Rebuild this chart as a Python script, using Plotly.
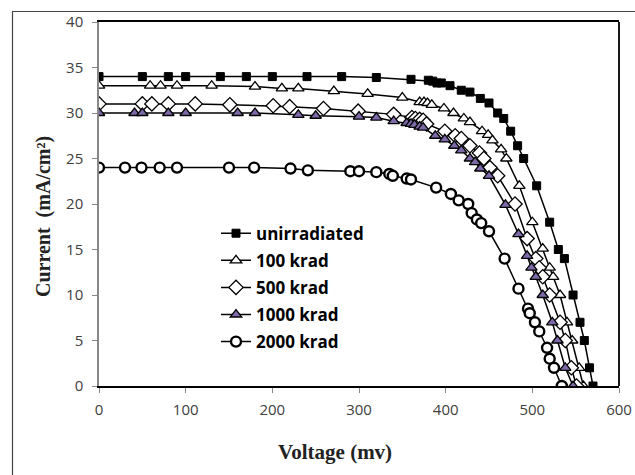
import plotly.graph_objects as go

# ---- data ----
v_unirr = [0, 50, 80, 100, 140, 170, 200, 240, 280, 320, 360, 380, 385, 390, 395, 405, 418, 428, 440, 450, 460, 467, 475, 483, 490, 505, 520, 530, 537, 547, 555, 560, 566, 570]
i_unirr = [34.0, 34.0, 34.0, 34.0, 34.0, 34.0, 34.0, 34.0, 34.0, 33.9, 33.7, 33.6, 33.5, 33.3, 33.3, 33.0, 32.5, 32.3, 31.6, 31.1, 30.0, 29.4, 28.0, 26.4, 25.0, 22.0, 18.0, 15.0, 14.0, 10.0, 7.0, 5.0, 2.0, 0.0]

v_100 = [0, 59, 71, 90, 130, 180, 211, 230, 271, 310, 350, 370, 375, 379, 384, 398, 409, 421, 428, 442, 449, 454, 464, 470, 485, 500, 512, 520, 524, 532, 540, 546, 554, 559]
i_100 = [33.0, 33.0, 33.0, 33.0, 33.0, 32.9, 32.7, 32.7, 32.4, 32.1, 31.7, 31.2, 31.2, 31.1, 30.9, 30.5, 30.0, 29.4, 29.0, 28.0, 27.6, 27.0, 26.0, 25.0, 22.0, 18.0, 15.1, 13.0, 12.0, 10.0, 7.0, 5.0, 2.0, 0.0]

v_500 = [0, 50, 61, 80, 111, 151, 201, 220, 259, 299, 340, 361, 365, 370, 374, 378, 399, 411, 418, 428, 439, 444, 451, 460, 480, 494, 504, 508, 512, 520, 532, 538, 545, 551]
i_500 = [31.0, 31.0, 31.0, 31.0, 31.0, 30.9, 30.8, 30.7, 30.5, 30.2, 29.85, 29.5, 29.4, 29.3, 29.2, 28.8, 28.0, 27.5, 27.2, 26.4, 25.6, 25.0, 24.0, 23.1, 20.0, 16.2, 14.0, 13.0, 12.0, 10.0, 7.0, 5.0, 2.0, 0.0]

v_1000 = [0, 41, 50, 80, 100, 160, 180, 230, 250, 300, 320, 340, 355, 360, 364, 370, 374, 388, 399, 410, 418, 428, 434, 440, 450, 469, 484, 494, 499, 504, 512, 523, 529, 538, 547]
i_1000 = [30.0, 30.0, 30.0, 30.0, 30.0, 30.0, 30.0, 29.8, 29.7, 29.6, 29.5, 29.1, 28.9, 28.8, 28.7, 28.5, 28.4, 27.5, 27.1, 26.4, 25.9, 25.0, 24.6, 23.9, 23.1, 19.9, 16.7, 14.3, 13.0, 12.0, 10.0, 7.0, 5.0, 2.0, 0.0]

v_2000 = [0, 30, 49, 70, 90, 150, 179, 221, 241, 290, 300, 320, 335, 339, 355, 360, 389, 406, 415, 426, 430, 436, 441, 450, 468, 484, 495, 497, 503, 508, 517, 520, 525, 534]
i_2000 = [24.0, 24.0, 24.0, 24.0, 24.0, 24.0, 24.0, 23.9, 23.7, 23.6, 23.6, 23.5, 23.3, 23.1, 22.8, 22.7, 21.8, 21.1, 20.4, 20.0, 19.0, 18.3, 17.9, 17.0, 14.0, 10.7, 8.5, 8.0, 7.0, 6.0, 4.2, 3.0, 2.0, 0.0]

names = ["unirradiated", "100 krad", "500 krad", "1000 krad", "2000 krad"]
x_ticks = [0, 100, 200, 300, 400, 500, 600]
y_ticks = [0, 5, 10, 15, 20, 25, 30, 35, 40]
x_title = "<b>Voltage (mv)</b>"
y_title = "<b>Current  (mA/cm²)</b>"

series = [
    (v_unirr, i_unirr, dict(symbol="square", size=8, color="black", line=dict(color="black", width=1))),
    (v_100, i_100, dict(symbol="triangle-up", size=10, color="white", line=dict(color="black", width=1.3))),
    (v_500, i_500, dict(symbol="diamond", size=11, color="white", line=dict(color="black", width=1.3))),
    (v_1000, i_1000, dict(symbol="triangle-up", size=10, color="#7D68A8", line=dict(color="black", width=1.3))),
    (v_2000, i_2000, dict(symbol="circle", size=10, color="white", line=dict(color="black", width=2.4))),
]

fig = go.Figure()
for k, (xs, ys, mk) in enumerate(series):
    fig.add_trace(go.Scatter(
        x=xs, y=ys, mode="lines+markers", name=names[k],
        legendgroup=f"g{k}",
        line=dict(color="black", width=1.5),
        marker=mk,
    ))

# plot area on screen: x 99..619, y 22..386 (page body margin removed below)
PL, PT, PW, PH = 99, 22, 520, 364
FW, FH = 635, 475

fig.update_layout(
    width=FW, height=FH,
    margin=dict(l=PL, r=FW - PL - PW, t=PT, b=FH - PT - PH),
    paper_bgcolor="white", plot_bgcolor="white",
    showlegend=True,
    legend=dict(x=0.225, y=0.468, xanchor="left", yanchor="top",
                bgcolor="rgba(0,0,0,0)", tracegroupgap=2,
                font=dict(family="Open Sans", size=17, color="black", weight="bold")),
    xaxis=dict(range=[0, 600], tickvals=x_ticks, ticks="outside", ticklen=5,
               tickcolor="#888888", showgrid=False, zeroline=False,
               showline=True, linecolor="black", linewidth=1.8, mirror=True,
               ticklabelstandoff=4, automargin=False,
               tickfont=dict(family="Open Sans", size=15, color="#404040")),
    yaxis=dict(range=[0, 40], tickvals=y_ticks, ticks="outside", ticklen=5,
               tickcolor="#888888", showgrid=False, zeroline=False,
               showline=True, linecolor="#888888", linewidth=1.5,
               ticklabelstandoff=6, automargin=False,
               tickfont=dict(family="Open Sans", size=15, color="#404040")),
    annotations=[
        dict(text=x_title, xref="paper", yref="paper", showarrow=False,
             x=(335 - PL) / PW, y=(PT + PH - 452) / PH, xanchor="center", yanchor="middle",
             font=dict(family="Liberation Serif", size=21, color="#222222")),
        dict(text=y_title, xref="paper", yref="paper", showarrow=False, textangle=-90,
             x=(43 - PL) / PW, y=(PT + PH - 217) / PH, xanchor="center", yanchor="middle",
             font=dict(family="Liberation Serif", size=20, color="#222222")),
    ],
)

# right border of the plot area
fig.add_shape(type="line", xref="paper", yref="paper", x0=1, x1=1, y0=0, y1=1,
              line=dict(color="black", width=1.8))
# outer chart-area border: top and left edges (the others fall outside the page)
fig.add_shape(type="line", xref="paper", yref="paper",
              x0=(12 - PL) / PW, x1=(FW - PL) / PW,
              y0=(PT + PH - 11.5) / PH, y1=(PT + PH - 11.5) / PH,
              line=dict(color="#444444", width=1.2))
fig.add_shape(type="line", xref="paper", yref="paper",
              x0=(12.5 - PL) / PW, x1=(12.5 - PL) / PW,
              y0=(PT + PH - FH) / PH, y1=(PT + PH - 11.5) / PH,
              line=dict(color="#444444", width=1.2))

fig.write_html("out.html", config={"displayModeBar": False},
               post_script="document.body.style.margin='0';document.body.style.overflow='hidden';")
